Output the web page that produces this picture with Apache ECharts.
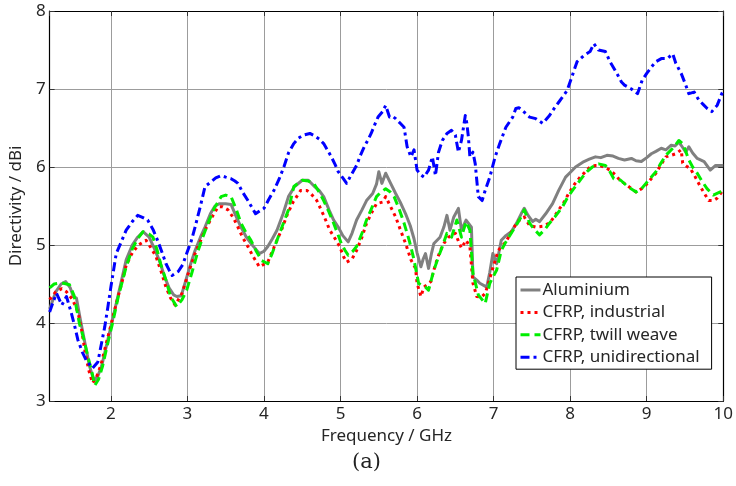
<!DOCTYPE html>
<html>
<head>
<meta charset="utf-8">
<script src="https://cdn.jsdelivr.net/npm/echarts@6/dist/echarts.min.js"></script>
<style>
  html, body { margin: 0; padding: 0; background: #fff; }
  #chart { width: 736px; height: 486px; }
</style>
</head>
<body>
<div id="chart"></div>
<script>
// Directivity (dBi) versus frequency (GHz) for four reflector materials.
const seriesNames = ['Aluminium', 'CFRP, industrial', 'CFRP, twill weave', 'CFRP, unidirectional'];

const aluFreq = [1.20,1.28,1.35,1.41,1.47,1.51,1.55,1.60,1.66,1.72,1.78,1.83,1.88,1.94,2.00,2.07,2.14,2.20,2.28,2.35,2.42,2.50,2.57,2.63,2.70,2.76,2.82,2.86,2.92,2.98,3.04,3.10,3.17,3.23,3.30,3.36,3.42,3.50,3.57,3.63,3.70,3.77,3.83,3.89,3.94,4.00,4.05,4.11,4.17,4.25,4.32,4.40,4.50,4.58,4.66,4.72,4.78,4.85,4.91,4.97,5.03,5.10,5.15,5.21,5.28,5.34,5.42,5.47,5.50,5.54,5.59,5.65,5.72,5.78,5.85,5.91,5.96,6.00,6.05,6.08,6.11,6.15,6.19,6.22,6.30,6.35,6.39,6.43,6.48,6.54,6.58,6.64,6.71,6.73,6.78,6.82,6.91,6.95,6.99,7.04,7.10,7.16,7.23,7.30,7.36,7.40,7.45,7.51,7.55,7.60,7.68,7.77,7.85,7.94,8.00,8.07,8.18,8.25,8.33,8.40,8.48,8.56,8.63,8.71,8.80,8.86,8.93,9.00,9.06,9.12,9.19,9.25,9.32,9.37,9.42,9.47,9.51,9.55,9.60,9.66,9.75,9.83,9.90,10.00];
const aluDir = [4.18,4.40,4.50,4.53,4.45,4.34,4.32,4.05,3.75,3.45,3.26,3.32,3.45,3.70,3.95,4.25,4.55,4.81,5.00,5.10,5.17,5.10,4.95,4.81,4.60,4.45,4.36,4.34,4.35,4.55,4.75,4.93,5.10,5.23,5.40,5.50,5.53,5.53,5.52,5.38,5.23,5.10,5.02,4.95,4.89,4.92,4.98,5.08,5.19,5.40,5.62,5.75,5.83,5.83,5.75,5.70,5.62,5.45,5.32,5.23,5.12,5.04,5.15,5.32,5.45,5.57,5.66,5.78,5.94,5.79,5.92,5.80,5.66,5.55,5.40,5.25,5.08,4.90,4.72,4.82,4.89,4.70,4.90,5.02,5.10,5.23,5.38,5.19,5.36,5.47,5.19,5.32,5.23,4.59,4.55,4.51,4.46,4.65,4.89,4.76,5.06,5.12,5.17,5.28,5.40,5.47,5.38,5.30,5.33,5.30,5.40,5.53,5.70,5.87,5.93,6.00,6.07,6.10,6.13,6.12,6.15,6.14,6.11,6.09,6.11,6.08,6.07,6.12,6.17,6.20,6.24,6.22,6.28,6.27,6.32,6.25,6.19,6.26,6.18,6.11,6.07,5.96,6.02,6.02];

const indFreq = [1.20,1.28,1.36,1.42,1.50,1.57,1.62,1.66,1.71,1.76,1.81,1.87,1.93,2.00,2.07,2.14,2.20,2.28,2.36,2.46,2.52,2.59,2.66,2.72,2.78,2.84,2.93,3.00,3.05,3.10,3.17,3.23,3.30,3.40,3.46,3.53,3.60,3.66,3.72,3.79,3.86,3.94,4.05,4.11,4.17,4.24,4.30,4.38,4.48,4.56,4.62,4.69,4.78,4.86,4.93,4.99,5.04,5.08,5.15,5.21,5.28,5.34,5.41,5.47,5.55,5.59,5.65,5.72,5.78,5.85,5.92,5.98,6.00,6.05,6.09,6.18,6.22,6.26,6.30,6.35,6.41,6.50,6.54,6.58,6.64,6.69,6.73,6.78,6.84,6.89,6.93,6.97,7.02,7.06,7.16,7.24,7.31,7.40,7.47,7.55,7.64,7.73,7.79,7.85,7.92,7.98,8.05,8.13,8.20,8.26,8.33,8.39,8.46,8.52,8.59,8.65,8.75,8.86,8.93,8.99,9.05,9.12,9.18,9.25,9.32,9.38,9.45,9.47,9.52,9.57,9.63,9.70,9.76,9.81,9.87,9.92,9.98,10.00];
const indDir = [4.30,4.40,4.44,4.40,4.30,4.14,3.90,3.65,3.40,3.23,3.30,3.46,3.70,3.97,4.25,4.50,4.74,4.90,5.00,5.06,4.97,4.85,4.65,4.46,4.32,4.23,4.38,4.60,4.75,4.89,5.05,5.19,5.32,5.49,5.49,5.45,5.35,5.23,5.10,4.98,4.85,4.72,4.78,4.92,5.06,5.22,5.38,5.55,5.70,5.70,5.65,5.57,5.38,5.19,5.08,4.98,4.85,4.78,4.82,4.93,5.10,5.28,5.42,5.53,5.55,5.62,5.50,5.36,5.20,5.02,4.81,4.70,4.51,4.34,4.46,4.53,4.68,4.81,4.92,5.02,5.10,5.15,5.05,4.96,5.06,4.98,4.51,4.34,4.33,4.38,4.50,4.64,4.80,4.93,5.04,5.18,5.30,5.36,5.25,5.23,5.24,5.28,5.36,5.45,5.55,5.66,5.77,5.87,5.94,6.00,6.02,6.02,5.99,5.96,5.90,5.83,5.76,5.68,5.72,5.77,5.84,5.92,6.02,6.13,6.15,6.17,6.22,6.05,6.01,5.98,5.88,5.75,5.65,5.57,5.57,5.60,5.68,5.70];

const twlFreq = [1.20,1.26,1.32,1.38,1.46,1.52,1.59,1.65,1.70,1.75,1.79,1.84,1.89,1.95,2.02,2.10,2.20,2.28,2.35,2.42,2.50,2.55,2.60,2.65,2.72,2.78,2.86,2.93,2.99,3.06,3.14,3.20,3.27,3.35,3.44,3.50,3.57,3.64,3.70,3.77,3.83,3.90,3.97,4.05,4.11,4.17,4.25,4.32,4.39,4.50,4.58,4.65,4.72,4.78,4.85,4.91,4.96,5.01,5.06,5.10,5.16,5.21,5.28,5.34,5.41,5.47,5.53,5.59,5.65,5.70,5.77,5.83,5.90,5.96,6.02,6.06,6.11,6.15,6.22,6.28,6.33,6.39,6.45,6.52,6.58,6.64,6.69,6.73,6.80,6.89,6.95,7.04,7.10,7.16,7.23,7.30,7.36,7.40,7.47,7.53,7.60,7.67,7.73,7.80,7.90,7.96,8.03,8.10,8.16,8.22,8.29,8.37,8.46,8.52,8.57,8.66,8.75,8.86,8.93,8.99,9.05,9.12,9.18,9.25,9.30,9.36,9.42,9.47,9.51,9.55,9.60,9.66,9.72,9.79,9.87,9.96,10.00];
const twlDir = [4.45,4.50,4.51,4.51,4.49,4.35,3.99,3.78,3.57,3.38,3.20,3.28,3.44,3.70,3.99,4.35,4.72,4.95,5.08,5.17,5.14,5.10,4.95,4.76,4.55,4.34,4.21,4.30,4.42,4.65,4.93,5.10,5.28,5.47,5.62,5.64,5.62,5.45,5.28,5.15,5.06,4.92,4.80,4.76,4.90,5.06,5.27,5.45,5.75,5.83,5.82,5.79,5.68,5.57,5.42,5.28,5.15,5.02,4.93,4.87,4.92,4.98,5.15,5.32,5.48,5.62,5.68,5.72,5.68,5.62,5.45,5.28,5.05,4.81,4.51,4.48,4.46,4.42,4.68,4.85,4.98,5.15,5.10,5.32,5.10,5.30,5.19,4.64,4.36,4.25,4.51,4.68,4.93,5.04,5.15,5.26,5.36,5.45,5.28,5.20,5.13,5.20,5.28,5.36,5.49,5.60,5.70,5.79,5.87,5.94,6.00,6.04,6.02,5.94,5.85,5.83,5.75,5.68,5.72,5.79,5.86,5.94,6.04,6.15,6.20,6.26,6.34,6.30,6.20,6.09,6.00,5.92,5.82,5.72,5.64,5.68,5.70];

const uniFreq = [1.20,1.25,1.29,1.36,1.42,1.48,1.53,1.57,1.63,1.68,1.76,1.83,1.88,1.92,1.96,2.00,2.07,2.14,2.20,2.28,2.35,2.42,2.48,2.55,2.61,2.67,2.72,2.76,2.80,2.88,2.94,2.99,3.05,3.10,3.17,3.23,3.31,3.37,3.44,3.50,3.57,3.62,3.66,3.72,3.79,3.85,3.89,3.95,4.00,4.06,4.13,4.20,4.26,4.32,4.39,4.45,4.52,4.60,4.66,4.72,4.78,4.84,4.88,4.93,4.97,5.03,5.08,5.14,5.21,5.26,5.31,5.36,5.40,5.45,5.49,5.55,5.59,5.64,5.68,5.72,5.78,5.83,5.87,5.92,5.96,6.00,6.05,6.09,6.15,6.20,6.24,6.28,6.33,6.39,6.45,6.50,6.54,6.58,6.63,6.65,6.67,6.69,6.73,6.76,6.78,6.80,6.85,6.89,6.95,7.02,7.08,7.16,7.25,7.29,7.33,7.37,7.47,7.55,7.64,7.73,7.79,7.85,7.96,8.02,8.09,8.18,8.26,8.31,8.37,8.46,8.52,8.61,8.67,8.71,8.80,8.88,8.94,9.00,9.06,9.12,9.19,9.27,9.34,9.38,9.45,9.51,9.55,9.62,9.68,9.74,9.79,9.85,9.92,9.98,10.00];
const uniDir = [4.14,4.28,4.38,4.23,4.34,4.14,3.95,3.78,3.62,3.52,3.42,3.50,3.75,3.95,4.20,4.46,4.89,5.05,5.19,5.30,5.38,5.35,5.32,5.20,5.06,4.90,4.76,4.68,4.61,4.66,4.75,4.89,5.05,5.23,5.50,5.75,5.81,5.86,5.89,5.87,5.85,5.82,5.79,5.68,5.57,5.47,5.40,5.44,5.47,5.58,5.70,5.85,6.00,6.18,6.30,6.37,6.41,6.43,6.40,6.36,6.30,6.20,6.13,6.03,5.94,5.86,5.79,5.90,6.02,6.15,6.26,6.35,6.43,6.55,6.64,6.71,6.79,6.64,6.65,6.62,6.56,6.51,6.26,6.13,6.22,5.96,5.90,5.87,5.96,6.13,5.89,6.19,6.34,6.43,6.47,6.41,6.19,6.34,6.66,6.56,6.39,6.13,6.19,6.04,5.83,5.62,5.57,5.70,5.87,6.13,6.30,6.51,6.64,6.75,6.76,6.73,6.64,6.62,6.56,6.66,6.75,6.83,6.98,7.15,7.35,7.43,7.48,7.58,7.50,7.48,7.35,7.20,7.09,7.05,7.00,6.94,7.11,7.20,7.28,7.35,7.39,7.39,7.45,7.33,7.20,7.05,6.94,6.96,6.86,6.80,6.75,6.71,6.79,6.94,6.97];

const yTicks = [3, 4, 5, 6, 7, 8];

function pairs(xs, ys) {
  return xs.map((x, i) => [x, ys[i]]);
}

const textColor = '#262626';
const labelFont = { fontFamily: 'Noto Sans', fontSize: 17, color: textColor };

function xAxisCfg(pos, main) {
  return {
    type: 'value', position: pos, min: 1.2, max: 10, minInterval: 1, maxInterval: 1,
    axisLine: { show: true, onZero: false, lineStyle: { color: '#000', width: 1.2 } },
    axisTick: { show: true, inside: true, length: 5, lineStyle: { color: '#333' } },
    axisLabel: main ? Object.assign({ show: true, margin: 5, showMinLabel: false }, labelFont) : { show: false },
    splitLine: { show: main, lineStyle: { color: '#9c9c9c', width: 1 } },
    name: main ? 'Frequency / GHz' : '', nameLocation: 'middle', nameGap: 22,
    nameTextStyle: labelFont
  };
}
function yAxisCfg(pos, main) {
  return {
    type: 'value', position: pos, min: yTicks[0], max: yTicks[yTicks.length - 1], interval: 1,
    axisLine: { show: true, onZero: false, lineStyle: { color: '#000', width: 1.2 } },
    axisTick: { show: true, inside: true, length: 5, lineStyle: { color: '#333' } },
    axisLabel: main ? Object.assign({ show: true, margin: 4 }, labelFont) : { show: false },
    splitLine: { show: main, lineStyle: { color: '#9c9c9c', width: 1 } },
    name: main ? 'Directivity / dBi' : '', nameLocation: 'middle', nameGap: 15,
    nameTextStyle: labelFont
  };
}

const styles = [
  { color: '#808080', type: 'solid', width: 3 },
  { color: '#ff0000', type: [3, 4], width: 3 },
  { color: '#00ee00', type: [9, 5], width: 3 },
  { color: '#0000ff', type: [9, 4, 3, 4], width: 3 }
];
const dataSets = [pairs(aluFreq, aluDir), pairs(indFreq, indDir), pairs(twlFreq, twlDir), pairs(uniFreq, uniDir)];

const chart = echarts.init(document.getElementById('chart'), null, { renderer: 'canvas' });
chart.setOption({
  animation: false,
  backgroundColor: '#fff',
  grid: { left: 46, right: 8, top: 11, bottom: 85, containLabel: false },
  xAxis: [xAxisCfg('bottom', true), xAxisCfg('top', false)],
  yAxis: [yAxisCfg('left', true), yAxisCfg('right', false)],
  legend: {
    orient: 'vertical', left: 516, top: 277,
    backgroundColor: '#fff', borderColor: '#000', borderWidth: 1,
    padding: [2, 12, 1, 3], itemGap: 0.4, itemWidth: 20, itemHeight: 12,
    itemStyle: { opacity: 0 },
    lineStyle: { width: 3 },
    textStyle: { fontFamily: 'Noto Sans', fontSize: 17, color: textColor, lineHeight: 22, padding: [0, 0, 0, -3] },
    data: seriesNames
  },
  series: seriesNames.map((name, i) => ({
    name: name, type: 'line', xAxisIndex: 0, yAxisIndex: 0,
    symbol: 'none', showSymbol: false, smooth: false,
    color: styles[i].color,
    lineStyle: { color: styles[i].color, width: styles[i].width, type: styles[i].type, cap: 'butt', join: 'round' },
    data: dataSets[i],
    z: 2 + i
  })),
  graphic: [{
    type: 'text', left: 352, top: 452,
    style: { text: '(a)', font: '21px "DejaVu Serif"', fill: '#222' }
  }]
});
</script>
</body>
</html>
